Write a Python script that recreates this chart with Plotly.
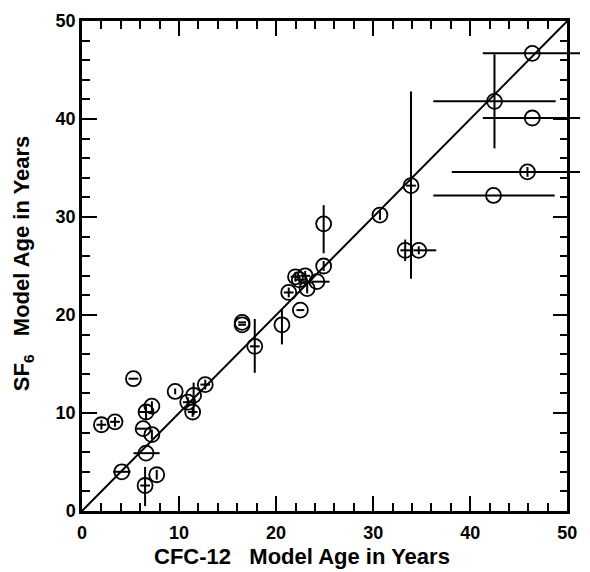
import plotly.graph_objects as go

# Model ages (years) from the two tracers, with uncertainty ranges
cfc12_age = [2.0, 3.4, 4.1, 5.3, 6.5, 7.7, 6.6, 7.2, 6.3, 6.6, 7.2, 9.6, 10.9, 11.5, 11.4,
             12.7, 16.5, 16.5, 17.8, 20.6, 21.3, 22.5, 22.0, 23.0, 23.2, 22.4, 24.2, 24.9,
             24.9, 30.7, 33.9, 33.3, 34.7, 42.4, 45.9, 46.4, 42.5, 46.4]
sf6_age = [8.8, 9.1, 4.0, 13.5, 2.6, 3.7, 5.9, 7.8, 8.4, 10.1, 10.7, 12.2, 11.1, 11.8, 10.1,
           12.9, 19.0, 19.25, 16.8, 19.0, 22.3, 20.5, 23.9, 24.0, 22.7, 23.6, 23.4, 25.0,
           29.3, 30.2, 33.2, 26.6, 26.6, 32.2, 34.6, 40.1, 41.8, 46.7]
cfc12_err_minus = [0.5, 0.5, 0.9, 0.5, 0.5, 0.0, 1.3, 0.0, 0.7, 0.7, 0.0, 0.0, 0.5, 0.0, 0.5,
                   0.5, 0.4, 0.4, 0.5, 0.0, 0.5, 0.4, 0.5, 0.5, 0.0, 0.5, 0.5, 0.0,
                   0.0, 0.0, 0.5, 0.5, 0.5, 6.2, 7.8, 5.1, 6.3, 5.1]
cfc12_err_plus = [0.5, 0.5, 0.9, 0.5, 0.5, 0.0, 1.4, 0.0, 0.7, 0.7, 0.0, 0.0, 0.5, 0.0, 0.5,
                  0.5, 0.4, 0.4, 0.5, 0.0, 0.5, 0.4, 0.5, 0.5, 0.0, 0.5, 1.3, 0.0,
                  0.0, 0.0, 0.5, 0.5, 1.8, 6.3, 7.8, 5.1, 6.3, 5.1]
sf6_err_minus = [0.5, 0.5, 0.0, 0.0, 2.1, 0.5, 0.0, 0.5, 0.0, 0.8, 0.5, 0.3, 0.5, 2.0, 0.5,
                 0.5, 0.0, 0.0, 2.7, 2.0, 0.5, 0.0, 0.5, 0.5, 0.5, 0.5, 0.0, 0.5,
                 3.0, 0.5, 9.5, 1.1, 0.4, 0.0, 0.5, 0.0, 4.8, 0.0]
sf6_err_plus = [0.5, 0.5, 0.0, 0.0, 1.9, 0.5, 0.0, 0.5, 0.0, 0.8, 0.5, 0.3, 0.5, 1.3, 0.5,
                0.5, 0.0, 0.0, 2.8, 1.6, 0.5, 0.0, 0.5, 0.5, 0.5, 0.5, 0.0, 0.5,
                1.9, 0.5, 9.6, 1.1, 0.4, 0.0, 0.5, 0.0, 4.8, 0.0]

one_to_one = [0, 50]
tick_vals = [0, 10, 20, 30, 40, 50]
axis_max = 50

# Page geometry: the framed axes stop at 50 years, but long error bars
# run on past the right-hand frame to the page edge.
W, H = 590, 572
L, R, T, B = 82, 0, 21, 61
frame_px = 495                      # width of the framed 0-50 box
plot_px = W - L - R
plot_py = H - T - B
frame_frac = frame_px / plot_px
wide_max = axis_max / frame_frac    # same scale, extended to the page edge

title_font = dict(family="Liberation Sans, Arial, sans-serif", size=22, color="black", weight="bold")
tick_font = dict(family="Liberation Sans, Arial, sans-serif", size=18, color="black", weight="bold")

fig = go.Figure()

# 1:1 line
fig.add_trace(go.Scatter(
    x=one_to_one, y=one_to_one, mode="lines", xaxis="x", yaxis="y",
    line=dict(color="black", width=2), showlegend=False, hoverinfo="skip",
))

# sample ages with error bars (on the widened, invisible x axis)
fig.add_trace(go.Scatter(
    x=cfc12_age, y=sf6_age, mode="markers", xaxis="x2", yaxis="y",
    marker=dict(symbol="circle-open", size=15, color="black", line=dict(width=1.8, color="black")),
    error_x=dict(type="data", symmetric=False, array=cfc12_err_plus, arrayminus=cfc12_err_minus,
                 color="black", thickness=2, width=0),
    error_y=dict(type="data", symmetric=False, array=sf6_err_plus, arrayminus=sf6_err_minus,
                 color="black", thickness=2, width=0),
    cliponaxis=False, showlegend=False,
))

axis_common = dict(
    range=[0, axis_max], tickvals=tick_vals, ticks="inside", ticklen=15, tickwidth=2,
    tickcolor="black", showline=True, linewidth=2.5, linecolor="black", mirror="ticks",
    showgrid=False, zeroline=False,
    minor=dict(dtick=2, ticks="inside", ticklen=8, tickwidth=1.8, tickcolor="black"),
    tickfont=tick_font,
)

fig.update_layout(
    width=W, height=H,
    margin=dict(l=L, r=R, t=T, b=B),
    paper_bgcolor="white", plot_bgcolor="rgba(0,0,0,0)",
    xaxis=dict(**axis_common, domain=[0, frame_frac], anchor="y", ticklabelstandoff=4),
    yaxis=dict(**axis_common, anchor="x"),
    xaxis2=dict(range=[0, wide_max], domain=[0, 1], anchor="y", visible=False,
                showgrid=False, zeroline=False),
    annotations=[
        dict(text="CFC-12&nbsp;&nbsp;&nbsp;Model Age in Years", xref="paper", yref="paper",
             x=(306 - L) / plot_px, y=(T + plot_py - 556) / plot_py,
             xanchor="center", yanchor="middle", showarrow=False, font=title_font),
        dict(text="SF<sub>6</sub>&nbsp;&nbsp;&nbsp;Model Age in Years", xref="paper", yref="paper",
             x=(22 - L) / plot_px, y=(T + plot_py - 263) / plot_py,
             xanchor="center", yanchor="middle", textangle=-90, showarrow=False, font=title_font),
    ],
)

fig.write_html("out.html")
